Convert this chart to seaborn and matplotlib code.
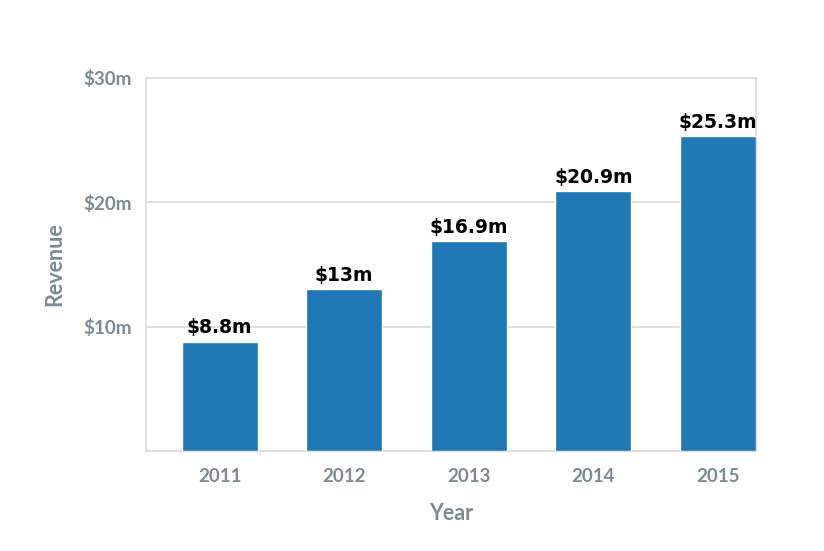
import numpy as np
import pandas as pd
import matplotlib
matplotlib.use('Agg')
import matplotlib.pyplot as plt
import seaborn as sns

# revenue by year ($m)
years = ['2011', '2012', '2013', '2014', '2015']
revenue = [8.8, 13.0, 16.9, 20.9, 25.3]
bar_labels = ['$8.8m', '$13m', '$16.9m', '$20.9m', '$25.3m']
y_ticks = [10, 20, 30]
y_tick_labels = ['$10m', '$20m', '$30m']

df = pd.DataFrame({'Year': years, 'Revenue': revenue})

sns.set_style('white')
plt.rcParams['font.family'] = ['Lato', 'DejaVu Sans']

grey = '#7b8a93'
fig = plt.figure(figsize=(8.24, 5.51), dpi=100)
ax = fig.add_axes([0.1772, 0.1815, 0.7403, 0.677])

sns.barplot(data=df, x='Year', y='Revenue', color='#1f77b4', saturation=1,
            width=0.61, ax=ax, zorder=3)

# value labels above bars
ax.bar_label(ax.containers[0], labels=bar_labels, padding=3,
             fontsize=13.5, fontweight='bold', color='black',
             family=['DejaVu Sans'])

ax.set_ylim(0, 30)
ax.set_xlim(-0.59, 4.305)
ax.set_yticks(y_ticks)
ax.set_yticklabels(y_tick_labels)
ax.yaxis.grid(True, color='#dddddd', linewidth=1.3, zorder=0)
ax.tick_params(length=0, labelsize=13.5, labelcolor=grey)
ax.tick_params(axis='y', pad=10)
ax.tick_params(axis='x', pad=12)
for lbl in ax.get_xticklabels() + ax.get_yticklabels():
    lbl.set_fontweight('bold')

for s in ax.spines.values():
    s.set_color('#dddddd')
    s.set_linewidth(1.3)

ax.set_xlabel('Year', fontsize=15.5, fontweight='bold', color=grey, labelpad=13)
ax.set_ylabel('Revenue', fontsize=15.5, fontweight='bold', color=grey, labelpad=13)

fig.savefig('out.png', dpi=100)
